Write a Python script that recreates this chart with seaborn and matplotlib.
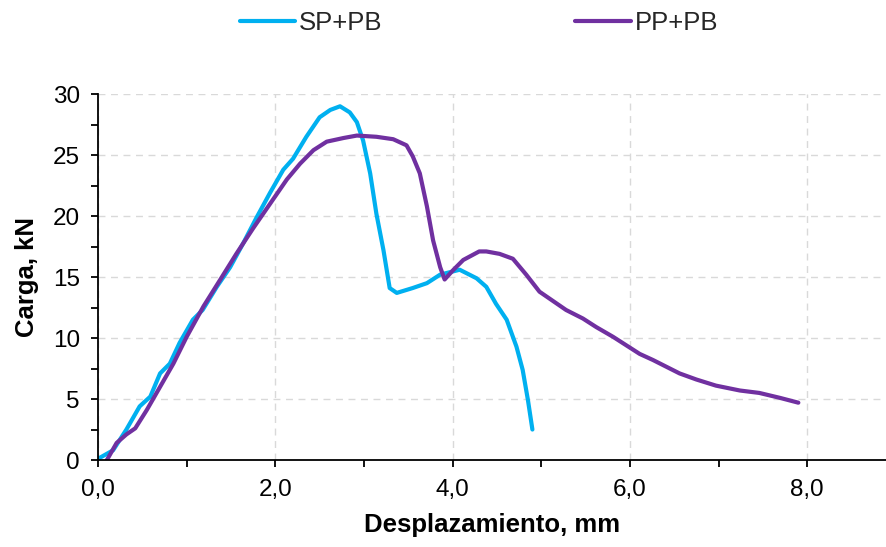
import matplotlib
matplotlib.use("Agg")
import matplotlib.pyplot as plt
from matplotlib.ticker import MultipleLocator, FuncFormatter
import numpy as np
import pandas as pd
import seaborn as sns

# Load-displacement curves
sp_disp = [0.00, 0.17, 0.32, 0.47, 0.59, 0.70, 0.81, 0.92, 1.07, 1.18, 1.34, 1.49,
           1.64, 1.79, 1.94, 2.09, 2.20, 2.35, 2.50, 2.62, 2.73, 2.84, 2.92, 2.99,
           3.07, 3.14, 3.22, 3.29, 3.37, 3.55, 3.71, 3.86, 4.08, 4.27, 4.38, 4.49,
           4.61, 4.72, 4.79, 4.85, 4.90]
sp_load = [0.1, 0.8, 2.5, 4.4, 5.2, 7.1, 7.9, 9.6, 11.5, 12.3, 14.2, 15.8,
           17.8, 19.9, 21.9, 23.8, 24.7, 26.5, 28.1, 28.7, 29.0, 28.5, 27.7, 26.2,
           23.5, 20.2, 17.2, 14.1, 13.7, 14.1, 14.5, 15.2, 15.6, 14.9, 14.2, 12.8,
           11.5, 9.3, 7.4, 4.9, 2.5]

pp_disp = [0.10, 0.21, 0.32, 0.42, 0.55, 0.70, 0.85, 1.00, 1.19, 1.38, 1.56, 1.75,
           1.94, 2.13, 2.28, 2.43, 2.58, 2.77, 2.92, 3.14, 3.33, 3.48, 3.55, 3.63,
           3.71, 3.78, 3.86, 3.91, 4.01, 4.12, 4.30, 4.38, 4.53, 4.68, 4.83, 4.98,
           5.28, 5.47, 5.62, 5.81, 6.11, 6.26, 6.56, 6.75, 6.97, 7.24, 7.46, 7.69,
           7.90]
pp_load = [0.0, 1.4, 2.1, 2.6, 4.1, 6.0, 7.9, 10.1, 12.6, 14.8, 16.9, 19.0,
           21.0, 23.0, 24.3, 25.4, 26.1, 26.4, 26.6, 26.5, 26.3, 25.8, 24.9, 23.5,
           20.8, 18.0, 15.8, 14.8, 15.6, 16.4, 17.1, 17.1, 16.9, 16.5, 15.2, 13.8,
           12.3, 11.6, 10.9, 10.1, 8.7, 8.2, 7.1, 6.6, 6.1, 5.7, 5.5, 5.1,
           4.7]

series_names = ["SP+PB", "PP+PB"]
series_colors = ["#00B0F0", "#7030A0"]

df = pd.concat([
    pd.DataFrame({"disp": sp_disp, "load": sp_load, "serie": series_names[0]}),
    pd.DataFrame({"disp": pp_disp, "load": pp_load, "serie": series_names[1]}),
], ignore_index=True)

sns.set_theme(style="white")
plt.rcParams["font.family"] = ["Liberation Sans", "DejaVu Sans"]

fig = plt.figure(figsize=(8.87, 5.47), dpi=100)
ax = fig.add_axes([0.1105, 0.159, 0.8895, 0.669])

sns.lineplot(data=df, x="disp", y="load", hue="serie", hue_order=series_names,
             palette=series_colors, sort=False, estimator=None, units="serie",
             linewidth=3.0, ax=ax, legend=True)
for ln in ax.get_lines():
    ln.set_solid_capstyle("round")
    ln.set_solid_joinstyle("round")

ax.set_xlim(0, 8.9)
ax.set_ylim(0, 30)
ax.xaxis.set_major_locator(MultipleLocator(2))
ax.xaxis.set_minor_locator(MultipleLocator(1))
ax.yaxis.set_major_locator(MultipleLocator(5))
ax.yaxis.set_minor_locator(MultipleLocator(2.5))
ax.xaxis.set_major_formatter(FuncFormatter(lambda v, p: f"{v:.1f}".replace(".", ",")))
ax.yaxis.set_major_formatter(FuncFormatter(lambda v, p: f"{v:.0f}"))

ax.grid(True, which="major", color="#D9D9D9", linestyle=(0, (5, 4)), linewidth=1)
ax.set_axisbelow(True)

for s in ["top", "right"]:
    ax.spines[s].set_visible(False)
for s in ["left", "bottom"]:
    ax.spines[s].set_color("black")
    ax.spines[s].set_linewidth(1.3)

ax.tick_params(which="both", direction="out", length=5, width=1.3, color="black",
               left=True, bottom=True, labelsize=17.5, labelcolor="black")
ax.tick_params(axis="x", pad=9)
ax.tick_params(axis="y", pad=8)

ax.set_xlabel("Desplazamiento, mm", fontsize=18.5, fontweight="bold", color="black", labelpad=8)
ax.set_ylabel("Carga, kN", fontsize=18.5, fontweight="bold", color="black", labelpad=10)

handles, labels = ax.get_legend_handles_labels()
ax.get_legend().remove()
fig.legend(handles, labels, loc="center", bbox_to_anchor=(0.54, 0.958), ncol=2,
           frameon=False, fontsize=18.5, handlelength=2.15, handletextpad=0.15,
           columnspacing=7.5)

fig.savefig("out.png", dpi=100)
